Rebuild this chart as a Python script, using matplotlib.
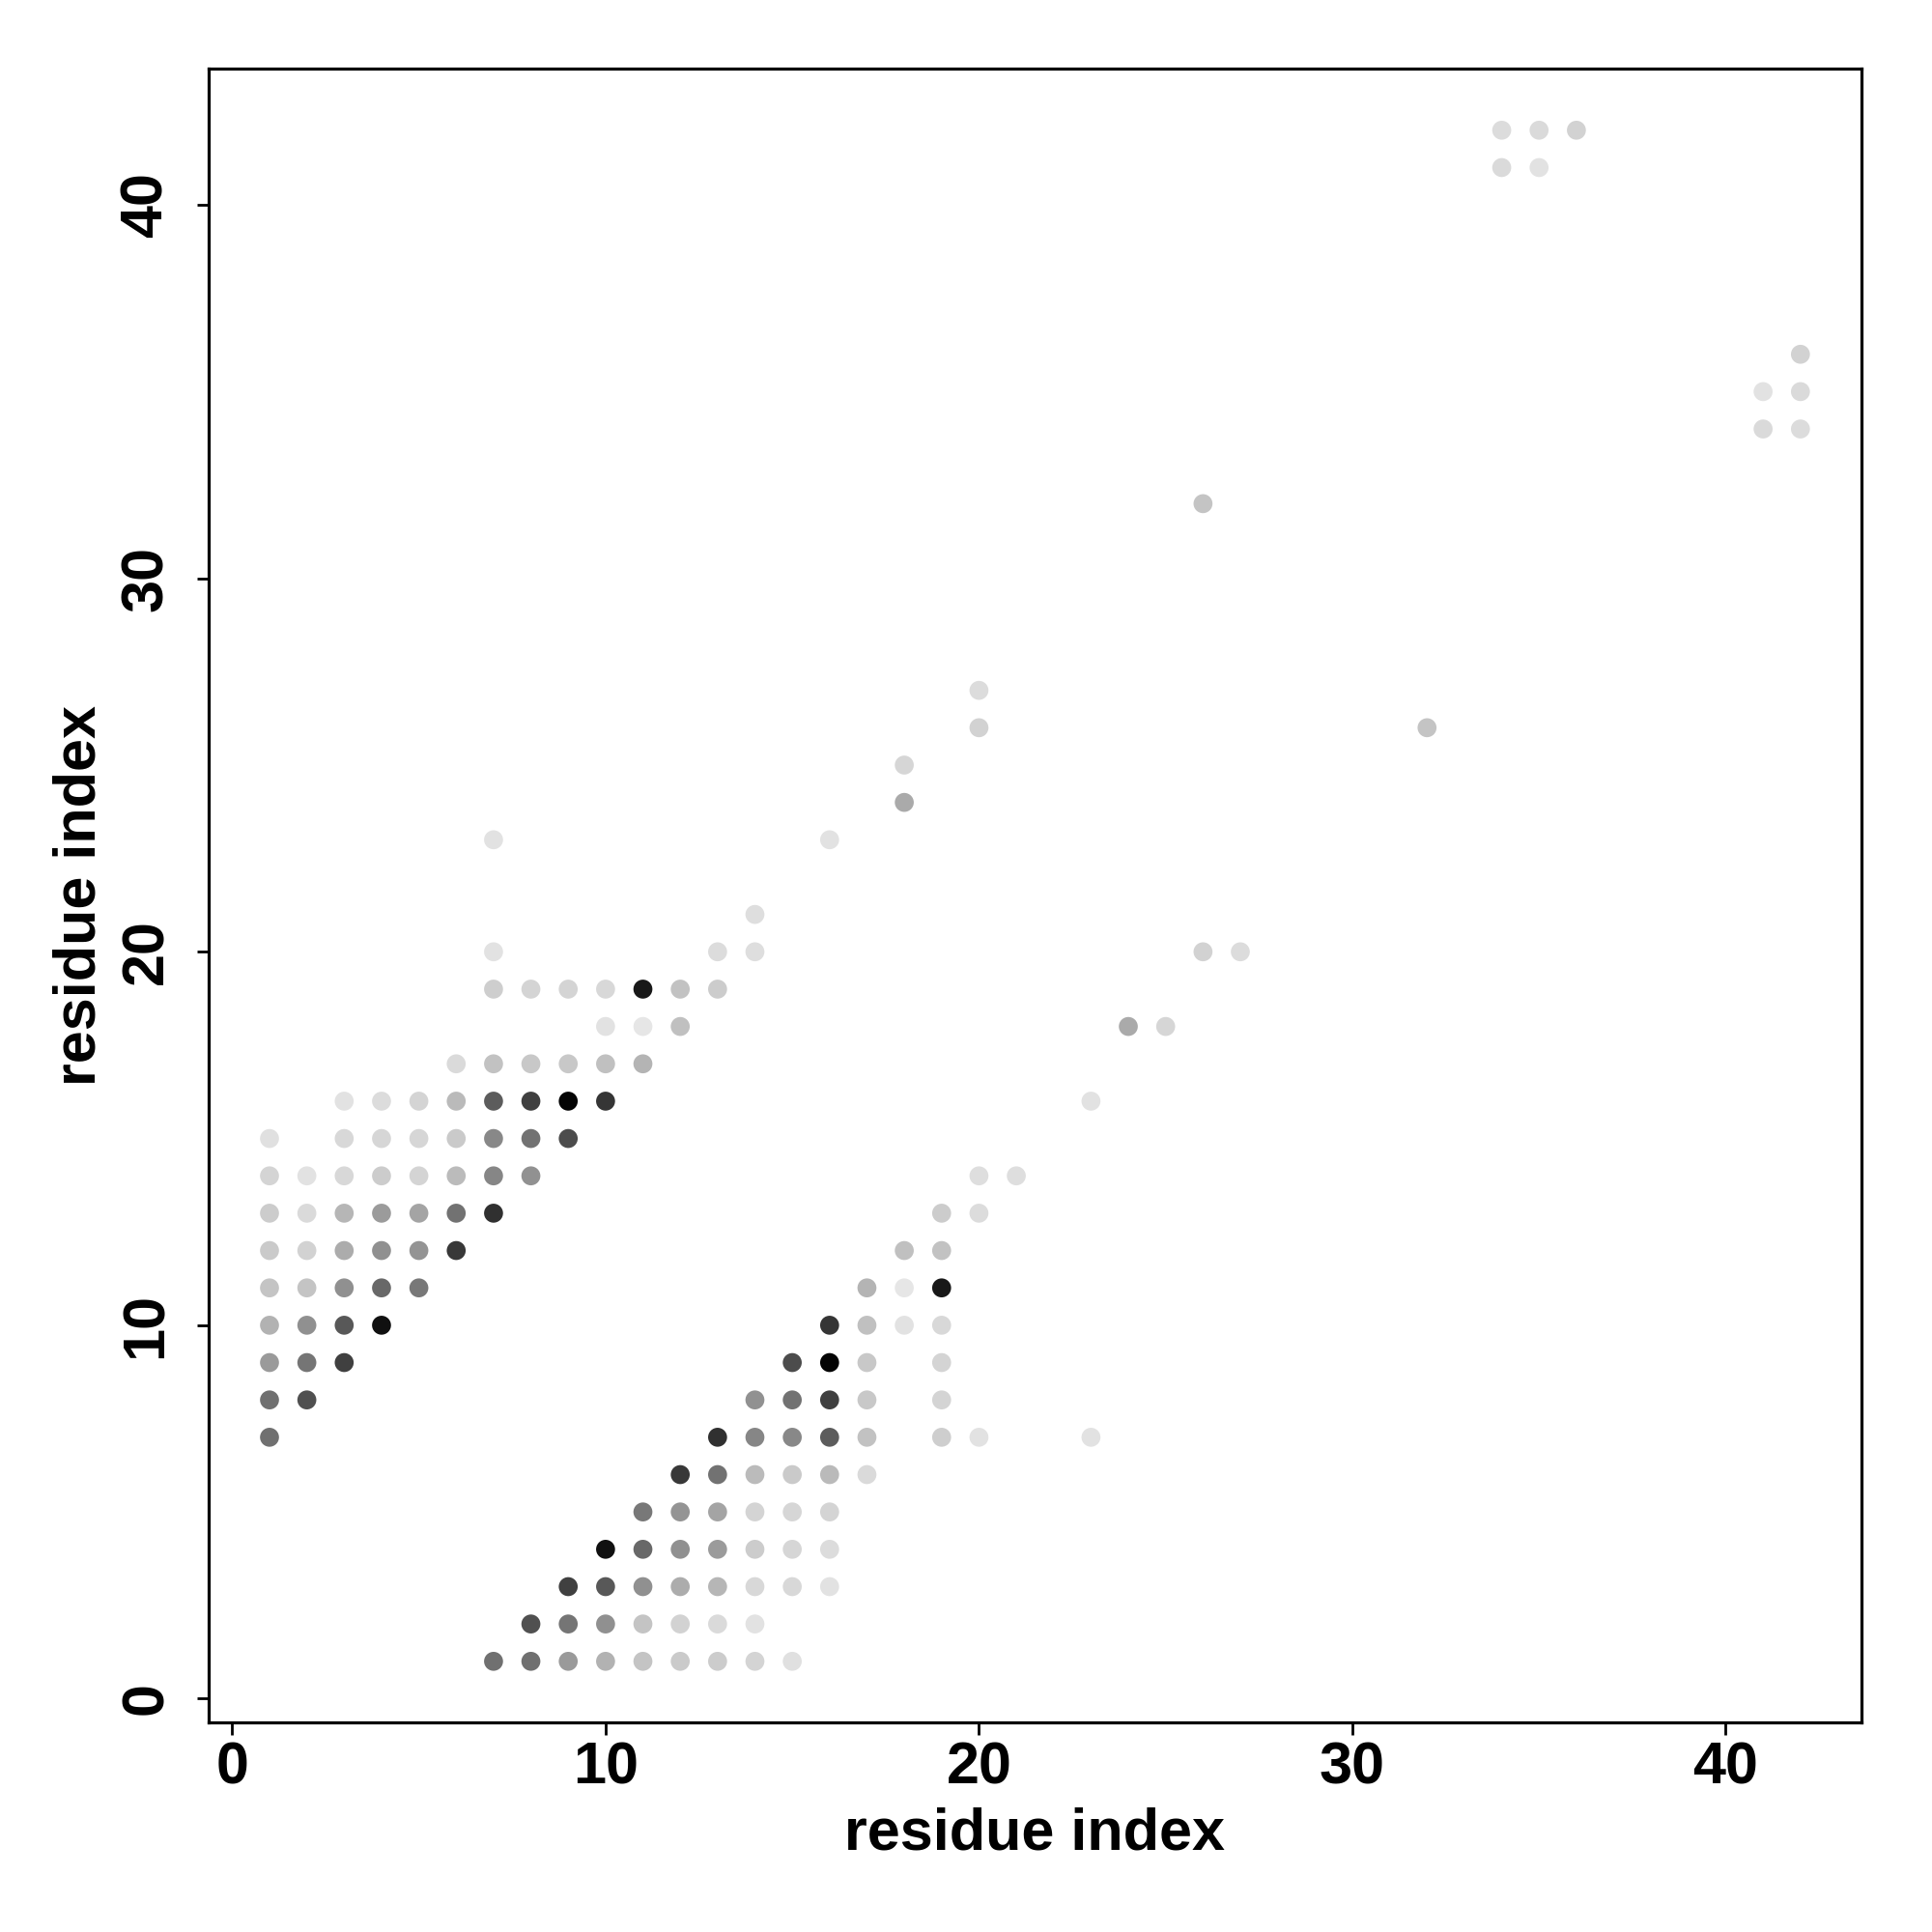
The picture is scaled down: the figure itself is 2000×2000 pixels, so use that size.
import matplotlib
matplotlib.use("Agg")
import matplotlib.pyplot as plt
import numpy as np
from matplotlib import font_manager

# Contacts (upper triangle, i < j) with grey level (0=black, 255=white); map is symmetric
res_i = [1, 1, 2, 1, 2, 3, 1, 2, 3, 4, 1, 2, 3, 4, 5,
         1, 2, 3, 4, 5, 6, 1, 2, 3, 4, 5, 6, 7,
         1, 2, 3, 4, 5, 6, 7, 8, 1, 3, 4, 5, 6, 7, 8, 9,
         3, 4, 5, 6, 7, 8, 9, 10, 6, 7, 8, 9, 10, 11,
         10, 11, 12, 7, 8, 9, 10, 11, 12, 13,
         7, 13, 14, 14, 7, 16, 18, 18, 20, 20, 26,
         34, 35, 34, 35, 36]
res_j = [7, 8, 8, 9, 9, 9, 10, 10, 10, 10, 11, 11, 11, 11, 11,
         12, 12, 12, 12, 12, 12, 13, 13, 13, 13, 13, 13, 13,
         14, 14, 14, 14, 14, 14, 14, 14, 15, 15, 15, 15, 15, 15, 15, 15,
         16, 16, 16, 16, 16, 16, 16, 16, 17, 17, 17, 17, 17, 17,
         18, 18, 18, 19, 19, 19, 19, 19, 19, 19,
         20, 20, 20, 21, 23, 23, 24, 25, 26, 27, 32,
         41, 41, 42, 42, 42]
grey = [112, 112, 80, 154, 117, 64, 178, 144, 88, 16, 196, 196, 144, 104, 120,
        202, 210, 172, 144, 148, 56, 204, 218, 182, 155, 164, 114, 48,
        212, 226, 216, 204, 212, 187, 134, 145, 224, 216, 214, 214, 202, 136, 114, 76,
        226, 220, 212, 186, 92, 64, 4, 53, 218, 194, 200, 200, 192, 180,
        226, 230, 192, 206, 212, 212, 216, 24, 194, 204,
        226, 220, 222, 222, 226, 226, 170, 214, 210, 220, 196,
        218, 226, 220, 218, 210]

avail = {f.name for f in font_manager.fontManager.ttflist}
fam = [f for f in ["Liberation Sans Narrow", "Liberation Sans", "DejaVu Sans"] if f in avail]
plt.rcParams['font.family'] = fam
plt.rcParams['font.weight'] = 'bold'

fig = plt.figure(figsize=(20, 20), dpi=100)
ax = fig.add_axes([0.1078, 0.1084, 0.9636 - 0.1078, 0.9643 - 0.1084])

xs = np.concatenate([res_i, res_j])
ys = np.concatenate([res_j, res_i])
g = np.concatenate([grey, grey]) / 255.0
cols = [(v, v, v) for v in g]
ax.scatter(xs, ys, s=200, c=cols, marker='o', linewidths=0, zorder=3)

ax.set_xlim(-0.64, 43.64)
ax.set_ylim(-0.64, 43.64)
ticks = [0, 10, 20, 30, 40]
ax.set_xticks(ticks)
ax.set_yticks(ticks)
ax.set_xticklabels([str(t) for t in ticks], fontsize=44, fontweight='bold')
ax.set_yticklabels([str(t) for t in ticks], fontsize=44, fontweight='bold',
                   rotation=90, va='center')
ax.tick_params(axis='x', direction='out', length=9, width=2, pad=5)
ax.tick_params(axis='y', direction='out', length=9, width=2, pad=16)
for sp in ax.spines.values():
    sp.set_linewidth(2.3)

ax.set_xlabel('residue index', fontsize=44, fontweight='bold', labelpad=8)
ax.set_ylabel('residue index', fontsize=44, fontweight='bold', labelpad=9)

fig.savefig('out.png', dpi=100, facecolor='white')
